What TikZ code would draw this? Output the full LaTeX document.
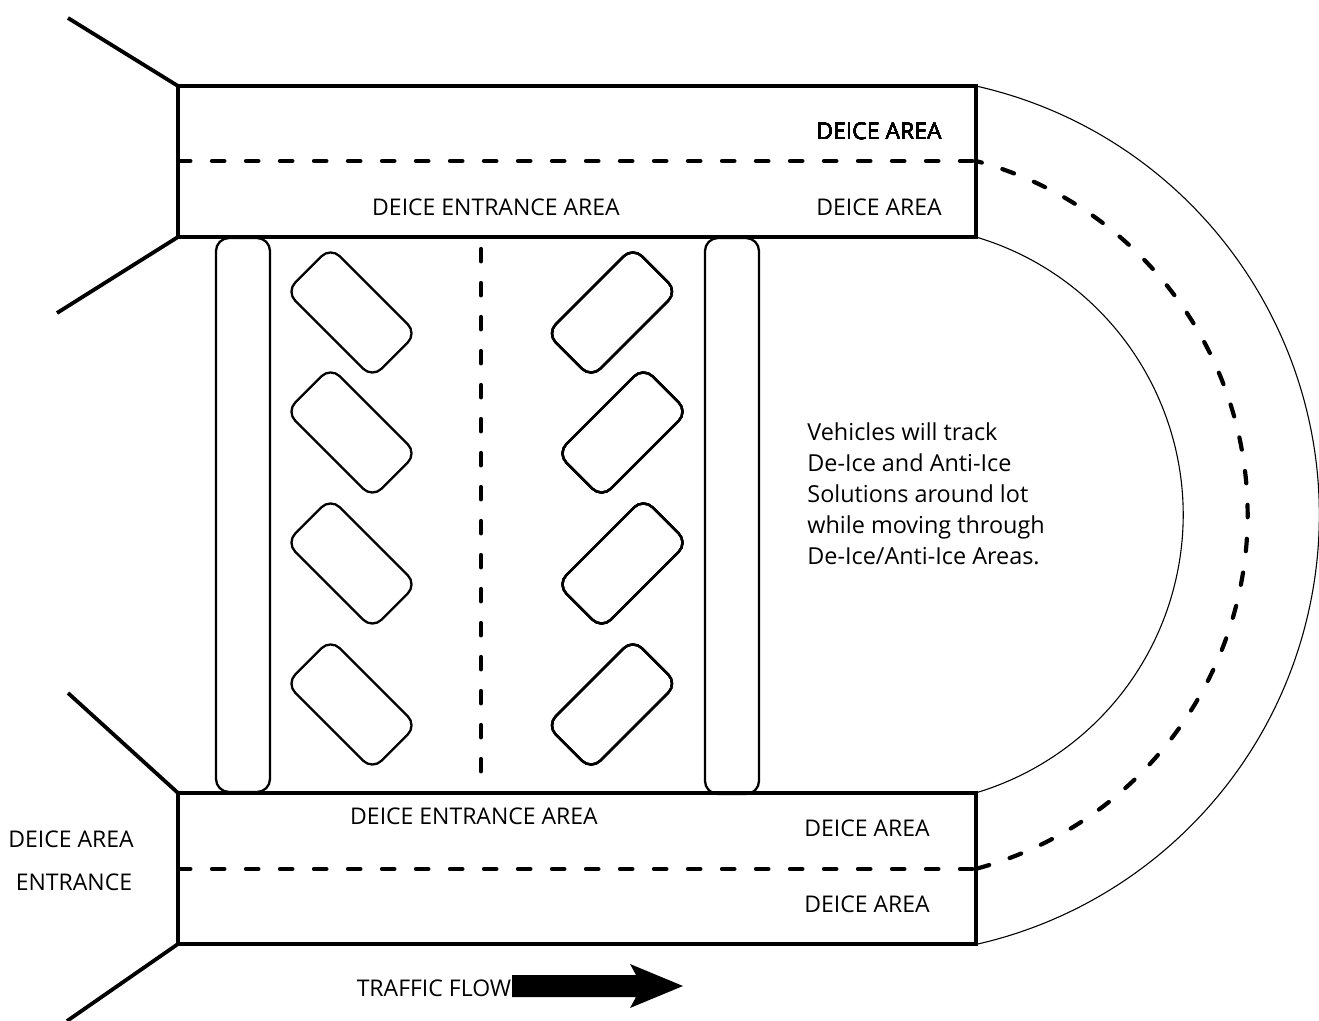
\documentclass[tikz,border=0pt]{standalone}
\usepackage{fontspec}
\setmainfont{Open Sans}
\tikzset{
	lotline/.style={line width=1.9pt, line join=miter},
	thinline/.style={line width=0.55pt},
	dashline/.style={line width=2.1pt, line cap=round, dash pattern=on 6.2pt off 10.8pt},
	stall/.style={draw, line width=1.15pt, rounded corners=6.5pt},
	lbl/.style={font=\fontsize{11.5}{14}\selectfont, inner sep=0pt, anchor=center}
}
\newcommand{\stallbox}[3]{% centre x, centre y, angle
	\draw[stall, rotate around={#3:(#1,#2)}] (#1-61,#2-31.5) rectangle (#1+61,#2+31.5);
}
\begin{document}
\begin{tikzpicture}[x=0.5pt,y=-0.5pt]
	\useasboundingbox (0,0) rectangle (1319,1021);
	% lots
	\draw[lotline] (178,86) rectangle (976,237);
	\draw[lotline] (178,793) rectangle (976,944);
	% entrance lines
	\draw[lotline] (68,18)--(178,86);
	\draw[lotline] (57,313)--(178,237);
	\draw[lotline] (68,693)--(178,793);
	\draw[lotline] (67,1021)--(178,944);
	% curve
	\draw[thinline] (976,86) arc[start angle=-77.3,end angle=77.3,radius=440];
	\draw[thinline] (976,237) arc[start angle=-73.4,end angle=73.4,radius=290];
	\draw[dashline] (178,161)--(976,161);
	\draw[dashline, dash phase=3.2pt] (976,161) arc[start angle=-75,end angle=75,radius=366.4];
	\draw[dashline] (178,869)--(976,869);
	\draw[dashline] (481,249)--(481,772);
	% islands
	\draw[stall] (216,238) rectangle (270,792);
	\draw[stall] (705,238) rectangle (759,794);
	% stalls
	\foreach \y in {312.5,432.5,563.5,704.5}
	\stallbox{351.5}{\y}{-45}
	\foreach \x/\y in {612/312.5,622.5/432.5,622.5/563.5,612/704.5}
	\stallbox{\x}{\y}{45}
	% labels
	\node[lbl] (dice1) at (879,131) {DEICE AREA};
	\node[lbl] (dice2) at (879,207) {DEICE AREA};
	\node[lbl] (ent1) at (496,207) {DEICE ENTRANCE AREA};
	\node[lbl] (ent2) at (474,816) {DEICE ENTRANCE AREA};
	\node[lbl] (dice3) at (867,828) {DEICE AREA};
	\node[lbl] (dice4) at (867,904) {DEICE AREA};
	\node[lbl] (dice5) at (71,839) {DEICE AREA};
	\node[lbl] (entr) at (74,882) {ENTRANCE};
	\node[lbl, align=left, anchor=north west, font=\fontsize{11.7}{15.5}\selectfont] (note) at (807,422) {Vehicles will track\\De-Ice and Anti-Ice\\Solutions around lot\\while moving through\\De-Ice/Anti-Ice Areas.};
	\node[lbl] (flow) at (434,988) {TRAFFIC FLOW};
	\fill (512,975)--(636,975)--(630,964)--(683,986)--(630,1008)--(636,997)--(512,997)--cycle;
\end{tikzpicture}
\end{document}
